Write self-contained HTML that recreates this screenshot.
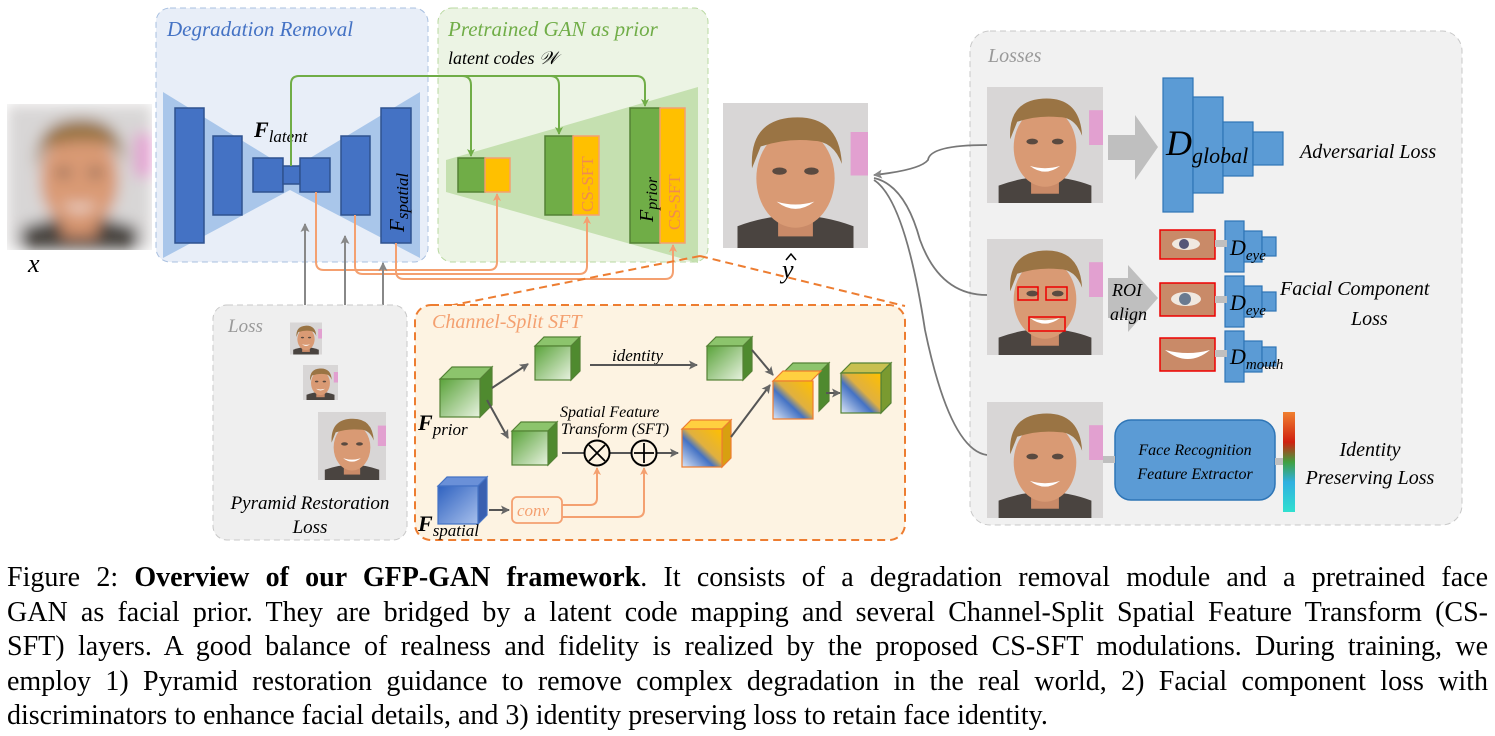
<!DOCTYPE html>
<html><head><meta charset="utf-8"><style>
body{margin:0;width:1495px;height:736px;background:#fff;overflow:hidden;position:relative;font-family:"Liberation Serif",serif}
svg{position:absolute;left:0;top:0}
.cap{position:absolute;left:7px;top:561px;width:1481px;font-size:28px;line-height:34.5px;color:#000}
.cap div{text-align:justify;text-align-last:justify;white-space:nowrap;height:34.5px}
.cap div.l{text-align-last:left}
text{font-family:"Liberation Serif",serif}
</style></head><body>
<svg width="1495" height="548" viewBox="0 0 1495 548">
<defs>
<symbol id="face" viewBox="0 0 100 100">
<rect width="100" height="100" fill="#d8d6d6"/>
<path d="M10 100 L10 85 Q50 70 90 85 L90 100Z" fill="#4a4440"/>
<rect x="38" y="72" width="24" height="20" fill="#c98a68"/>
<ellipse cx="50" cy="52" rx="27" ry="34" fill="#d99a74"/>
<path d="M20 45 Q18 12 48 10 Q80 8 82 42 Q76 26 62 26 Q44 24 26 30Z" fill="#9a7444"/>
<ellipse cx="39" cy="47" rx="5" ry="2.5" fill="#5a4a40"/><ellipse cx="61" cy="47" rx="5" ry="2.5" fill="#5a4a40"/>
<path d="M37 68 Q50 78 63 68 Q50 72 37 68Z" fill="#fff"/>
<rect x="88" y="20" width="12" height="30" fill="#e2a0d0"/>
</symbol>
<filter id="bl"><feGaussianBlur stdDeviation="5"/></filter>
<linearGradient id="gc" x1="0" y1="0" x2="1" y2="1"><stop offset="0" stop-color="#5aa33a"/><stop offset="1" stop-color="#e8f2e0"/></linearGradient>
<linearGradient id="bc" x1="0" y1="0" x2="1" y2="1"><stop offset="0" stop-color="#2f62c0"/><stop offset="1" stop-color="#a8c0ec"/></linearGradient>
<linearGradient id="mc" x1="1" y1="0" x2="0" y2="1"><stop offset="0" stop-color="#ffc000"/><stop offset="0.45" stop-color="#e0b040"/><stop offset="0.6" stop-color="#4472c4"/><stop offset="1" stop-color="#dde6f5"/></linearGradient>
<linearGradient id="cb" x1="0" y1="0" x2="0" y2="1"><stop offset="0" stop-color="#f08030"/><stop offset="0.3" stop-color="#d02010"/><stop offset="0.5" stop-color="#40a040"/><stop offset="0.7" stop-color="#30b0e0"/><stop offset="1" stop-color="#30e0d0"/></linearGradient>
<marker id="ag" markerWidth="8" markerHeight="8" refX="7" refY="4" orient="auto" markerUnits="userSpaceOnUse"><path d="M0 0L8 4L0 8L2 4Z" fill="#70ad47"/></marker>
<marker id="ao" markerWidth="8" markerHeight="8" refX="7" refY="4" orient="auto" markerUnits="userSpaceOnUse"><path d="M0 0L8 4L0 8L2 4Z" fill="#f4a070"/></marker>
<marker id="ak" markerWidth="9" markerHeight="9" refX="8" refY="4.5" orient="auto" markerUnits="userSpaceOnUse"><path d="M0 0L9 4.5L0 9L2 4.5Z" fill="#666"/></marker>
<marker id="aq" markerWidth="9" markerHeight="9" refX="8" refY="4.5" orient="auto" markerUnits="userSpaceOnUse"><path d="M0 0L9 4.5L0 9L2 4.5Z" fill="#888"/></marker>
</defs>

<svg x="7" y="104" width="145" height="146" viewBox="0 0 100 100"><g filter="url(#bl)"><use href="#face" width="100" height="100"/></g></svg>
<text x="28" y="272" font-size="26" font-style="italic">x</text>

<rect x="156" y="8" width="272" height="254" rx="14" fill="#e8eef8" stroke="#a9c0e0" stroke-dasharray="6,4"/>
<text x="167" y="36" font-size="21" font-style="italic" fill="#4472c4">Degradation Removal</text>
<polygon points="163,92 290,170 420,92 420,258 290,190 163,258" fill="#a9c6ea"/>
<g fill="#4472c4" stroke="#2f528f" stroke-width="1.5">
<rect x="175" y="108" width="29" height="135"/>
<rect x="213" y="136" width="29" height="79"/>
<rect x="253" y="158" width="30" height="34"/>
<rect x="283" y="166" width="17" height="18"/>
<rect x="300" y="158" width="30" height="34"/>
<rect x="341" y="136" width="29" height="79"/>
<rect x="381" y="108" width="30" height="135"/>
</g>
<text x="254" y="137" font-size="22" font-style="italic"><tspan font-weight="bold">F</tspan><tspan font-size="17" dy="5">latent</tspan></text>
<text transform="translate(404,232) rotate(-90)" font-size="21" font-style="italic">F<tspan font-size="17" dy="4">spatial</tspan></text>

<rect x="438" y="8" width="270" height="254" rx="14" fill="#ecf4e4" stroke="#b8d8a0" stroke-dasharray="6,4"/>
<text x="448" y="36" font-size="21" font-style="italic" fill="#70ad47">Pretrained GAN as prior</text>
<text x="448" y="64" font-size="18" font-style="italic">latent codes 𝒲</text>
<polygon points="446,160 698,87 698,263 446,192" fill="#c5e0b0"/>
<g stroke-width="1.5">
<rect x="458" y="158" width="27" height="34" fill="#70ad47" stroke="#548235"/>
<rect x="485" y="158" width="25" height="34" fill="#ffc000" stroke="#f4a070"/>
<rect x="545" y="136" width="28" height="79" fill="#70ad47" stroke="#548235"/>
<rect x="573" y="136" width="26" height="79" fill="#ffc000" stroke="#f4a070"/>
<rect x="630" y="108" width="30" height="135" fill="#70ad47" stroke="#548235"/>
<rect x="660" y="108" width="25" height="135" fill="#ffc000" stroke="#f4a070"/>
</g>
<text transform="translate(593,212) rotate(-90)" font-size="17" fill="#f08a50">CS-SFT</text>
<text transform="translate(680,230) rotate(-90)" font-size="17" fill="#f08a50">CS-SFT</text>
<text transform="translate(653,222) rotate(-90)" font-size="20" font-style="italic">F<tspan font-size="16" dy="4">prior</tspan></text>

<g fill="none" stroke="#70ad47" stroke-width="2">
<path d="M291 166 V84 Q291 76 299 76 H462 Q471 76 471 85 V156" marker-end="url(#ag)"/>
<path d="M462 76 H550 Q559 76 559 85 V134" marker-end="url(#ag)"/>
<path d="M550 76 H636 Q645 76 645 85 V106" marker-end="url(#ag)"/>
</g>
<g fill="none" stroke="#f4a070" stroke-width="2">
<path d="M316 192 V262 Q316 270 324 270 H489 Q497 270 497 262 V194" marker-end="url(#ao)"/>
<path d="M355 215 V266 Q355 274 363 274 H579 Q587 274 587 266 V217" marker-end="url(#ao)"/>
<path d="M396 243 V271 Q396 279 404 279 H665 Q673 279 673 271 V245" marker-end="url(#ao)"/>
</g>
<g stroke="#888" stroke-width="2" fill="none">
<path d="M305 320 V224" marker-end="url(#aq)"/>
<path d="M345 355 V236" marker-end="url(#aq)"/>
<path d="M383 405 V263" marker-end="url(#aq)"/>
</g>

<rect x="213" y="305" width="194" height="235" rx="14" fill="#efefef" stroke="#c8c8c8" stroke-dasharray="6,4"/>
<text x="228" y="332" font-size="19" font-style="italic" fill="#999">Loss</text>
<use href="#face" x="290" y="322" width="32" height="33"/>
<use href="#face" x="303" y="360" width="35" height="45"/>
<use href="#face" x="318" y="408" width="68" height="76"/>
<text x="310" y="509" font-size="19" font-style="italic" text-anchor="middle">Pyramid Restoration</text>
<text x="310" y="533" font-size="19" font-style="italic" text-anchor="middle">Loss</text>

<path d="M700 256 L418 312 M700 256 L905 306" stroke="#ed7d31" stroke-width="2" stroke-dasharray="8,5" fill="none"/>
<rect x="415" y="305" width="490" height="235" rx="16" fill="#fdf3e2" stroke="#ed7d31" stroke-width="2" stroke-dasharray="8,5"/>
<text x="432" y="328" font-size="20" font-style="italic" fill="#f4a070">Channel-Split SFT</text>

<g stroke-width="1.2">
<g transform="translate(440,367)"><polygon points="0,12 12,0 52,0 40,12" fill="#8cc46c" stroke="#548235"/><polygon points="40,12 52,0 52,38 40,50" fill="#4f8a2f" stroke="#548235"/><rect x="0" y="12" width="40" height="38" fill="url(#gc)" stroke="#548235"/></g>
<g transform="translate(535,337)"><polygon points="0,9 9,0 45,0 36,9" fill="#8cc46c" stroke="#548235"/><polygon points="36,9 45,0 45,34 36,43" fill="#4f8a2f" stroke="#548235"/><rect x="0" y="9" width="36" height="34" fill="url(#gc)" stroke="#548235"/></g>
<g transform="translate(707,337)"><polygon points="0,9 9,0 45,0 36,9" fill="#8cc46c" stroke="#548235"/><polygon points="36,9 45,0 45,34 36,43" fill="#4f8a2f" stroke="#548235"/><rect x="0" y="9" width="36" height="34" fill="url(#gc)" stroke="#548235"/></g>
<g transform="translate(512,422)"><polygon points="0,9 9,0 45,0 36,9" fill="#8cc46c" stroke="#548235"/><polygon points="36,9 45,0 45,34 36,43" fill="#4f8a2f" stroke="#548235"/><rect x="0" y="9" width="36" height="34" fill="url(#gc)" stroke="#548235"/></g>
<g transform="translate(682,420)"><polygon points="0,9 9,0 49,0 40,9" fill="#ffd040" stroke="#ed7d31"/><polygon points="40,9 49,0 49,38 40,47" fill="#d8a010" stroke="#ed7d31"/><rect x="0" y="9" width="40" height="38" fill="url(#mc)" stroke="#ed7d31"/></g>
<g transform="translate(773,363)"><polygon points="10,10 20,0 56,0 46,10" fill="#8cc46c" stroke="#548235"/><polygon points="46,10 56,0 56,38 46,48" fill="#4f8a2f" stroke="#548235"/><polygon points="0,18 10,8 48,8 38,18" fill="#ffd040" stroke="#ed7d31"/><rect x="0" y="18" width="40" height="38" fill="url(#mc)" stroke="#ed7d31"/></g>
<g transform="translate(841,363)"><polygon points="0,10 10,0 50,0 40,10" fill="#c8c050" stroke="#548235"/><polygon points="40,10 50,0 50,40 40,50" fill="#7a9a30" stroke="#548235"/><rect x="0" y="10" width="40" height="40" fill="url(#mc)" stroke="#548235"/></g>
<g transform="translate(438,477)"><polygon points="0,9 9,0 49,0 40,9" fill="#6a90d8" stroke="#4472c4"/><polygon points="40,9 49,0 49,38 40,47" fill="#3a60b0" stroke="#4472c4"/><rect x="0" y="9" width="40" height="38" fill="url(#bc)" stroke="#4472c4"/></g>
</g>
<text x="418" y="430" font-size="22" font-style="italic"><tspan font-weight="bold">F</tspan><tspan font-size="17" dy="5">prior</tspan></text>
<text x="418" y="531" font-size="22" font-style="italic"><tspan font-weight="bold">F</tspan><tspan font-size="17" dy="5">spatial</tspan></text>
<text x="612" y="361" font-size="17" font-style="italic">identity</text>
<text x="560" y="417" font-size="16" font-style="italic">Spatial Feature</text>
<text x="561" y="434" font-size="16" font-style="italic">Transform (SFT)</text>
<g stroke="#555" stroke-width="2" fill="none">
<path d="M492 388 L528 364" marker-end="url(#ak)"/>
<path d="M487 400 L508 438" marker-end="url(#ak)"/>
<path d="M590 365 H697" marker-end="url(#ak)"/>
<path d="M562 453 H584"/><path d="M610 453 H631"/><path d="M657 453 H678" marker-end="url(#ak)"/>
<path d="M752 350 L773 375" marker-end="url(#ak)"/>
<path d="M731 437 L770 385" marker-end="url(#ak)"/>
<path d="M826 393 H840" marker-end="url(#ak)"/>
<path d="M489 510 H509" marker-end="url(#ak)"/>
</g>
<circle cx="597" cy="453" r="12.5" fill="none" stroke="#000" stroke-width="2"/>
<path d="M589 445 L605 461 M605 445 L589 461" stroke="#000" stroke-width="1.8"/>
<circle cx="644" cy="453" r="12.5" fill="none" stroke="#000" stroke-width="2"/>
<path d="M644 443 V463 M634 453 H654" stroke="#000" stroke-width="1.8"/>
<rect x="512" y="497" width="50" height="26" rx="5" fill="none" stroke="#f4a070" stroke-width="1.8"/>
<text x="517" y="516" font-size="17" font-style="italic" fill="#f4a070">conv</text>
<g fill="none" stroke="#f4a070" stroke-width="2">
<path d="M562 505 H590 Q597 505 597 498 V468" marker-end="url(#ao)"/>
<path d="M562 517 H637 Q644 517 644 510 V468" marker-end="url(#ao)"/>
</g>

<use href="#face" x="723" y="103" width="145" height="145"/>
<text x="782" y="278" font-size="26" font-style="italic">y</text>
<path d="M786 260 L791 254 L796 260" stroke="#000" stroke-width="1.5" fill="none"/>

<rect x="970" y="31" width="492" height="494" rx="20" fill="#f1f1f1" stroke="#c8c8c8" stroke-dasharray="6,4"/>
<text x="988" y="62" font-size="20" font-style="italic" fill="#999">Losses</text>
<g fill="none" stroke="#777" stroke-width="1.8">
<path d="M987 145 Q930 145 928 160 Q920 170 874 175" marker-end="url(#aq)"/>
<path d="M987 295 Q940 295 920 240 Q905 185 874 178"/>
<path d="M987 455 Q950 450 925 330 Q905 200 874 180"/>
</g>
<use href="#face" x="987" y="85" width="116" height="120"/>
<use href="#face" x="987" y="237" width="116" height="120"/>
<use href="#face" x="987" y="400" width="116" height="120"/>
<g fill="none" stroke="#e00" stroke-width="1.5">
<rect x="1018" y="287" width="20" height="13"/><rect x="1046" y="287" width="21" height="13"/><rect x="1029" y="317" width="36" height="14"/>
</g>
<polygon points="1108,135 1135,135 1135,115 1158,147 1135,180 1135,160 1108,160" fill="#bfbfbf"/>
<g fill="#5b9bd5" stroke="#2e75b6" stroke-width="1.2">
<rect x="1163" y="78" width="30" height="134"/><rect x="1193" y="97" width="30" height="96"/><rect x="1223" y="122" width="30" height="54"/><rect x="1253" y="132" width="30" height="33"/>
</g>
<text x="1166" y="155" font-size="36" font-style="italic" font-family="DejaVu Serif">D<tspan font-size="22" dy="8">global</tspan></text>
<text x="1300" y="158" font-size="20" font-style="italic">Adversarial Loss</text>

<polygon points="1108,278 1128,278 1128,265 1158,298 1128,332 1128,318 1108,318" fill="#bfbfbf"/>
<text x="1112" y="296" font-size="18" font-style="italic">ROI</text>
<text x="1110" y="320" font-size="18" font-style="italic">align</text>
<g fill="#c98a68" stroke="#e00" stroke-width="1.5">
<rect x="1160" y="230" width="55" height="29"/><rect x="1160" y="283" width="55" height="33"/><rect x="1160" y="338" width="55" height="33"/>
</g>
<ellipse cx="1186" cy="244" rx="14" ry="6" fill="#f0e8e0"/><circle cx="1184" cy="244" r="5" fill="#557"/>
<ellipse cx="1186" cy="299" rx="15" ry="7" fill="#f0e8e0"/><circle cx="1185" cy="299" r="6" fill="#6a7a90"/>
<path d="M1165 350 Q1188 368 1210 350 Q1188 356 1165 350Z" fill="#fff"/>
<g fill="#5b9bd5" stroke="#2e75b6" stroke-width="1.2">
<rect x="1225" y="221" width="19" height="51"/><rect x="1244" y="231" width="18" height="31"/><rect x="1262" y="237" width="14" height="19"/>
<rect x="1225" y="276" width="19" height="51"/><rect x="1244" y="286" width="18" height="31"/><rect x="1262" y="292" width="14" height="19"/>
<rect x="1225" y="331" width="19" height="51"/><rect x="1244" y="341" width="18" height="31"/><rect x="1262" y="347" width="14" height="19"/>
</g>
<g fill="#bfbfbf"><rect x="1215" y="240" width="12" height="7"/><rect x="1215" y="296" width="12" height="7"/><rect x="1215" y="350" width="12" height="7"/></g>
<g font-family="DejaVu Serif" font-style="italic">
<text x="1230" y="255" font-size="22">D<tspan font-size="15" dy="5">eye</tspan></text>
<text x="1230" y="310" font-size="22">D<tspan font-size="15" dy="5">eye</tspan></text>
<text x="1230" y="364" font-size="22">D<tspan font-size="15" dy="5">mouth</tspan></text>
</g>
<text x="1280" y="295" font-size="20" font-style="italic">Facial Component</text>
<text x="1351" y="325" font-size="20" font-style="italic">Loss</text>

<rect x="1115" y="420" width="160" height="80" rx="16" fill="#5b9bd5" stroke="#2e75b6" stroke-width="1.5"/>
<text x="1195" y="455" font-size="16" font-style="italic" text-anchor="middle">Face Recognition</text>
<text x="1195" y="479" font-size="16" font-style="italic" text-anchor="middle">Feature Extractor</text>
<rect x="1103" y="456" width="12" height="7" fill="#bfbfbf"/>
<rect x="1275" y="458" width="10" height="7" fill="#bfbfbf"/>
<rect x="1283" y="412" width="12" height="100" fill="url(#cb)"/>
<text x="1370" y="456" font-size="20" font-style="italic" text-anchor="middle">Identity</text>
<text x="1370" y="484" font-size="20" font-style="italic" text-anchor="middle">Preserving Loss</text>
</svg>
<div class="cap">
<div>Figure 2: <b>Overview of our GFP-GAN framework</b>. It consists of a degradation removal module and a pretrained face</div>
<div>GAN as facial prior. They are bridged by a latent code mapping and several Channel-Split Spatial Feature Transform (CS-</div>
<div>SFT) layers. A good balance of realness and fidelity is realized by the proposed CS-SFT modulations. During training, we</div>
<div>employ 1) Pyramid restoration guidance to remove complex degradation in the real world, 2) Facial component loss with</div>
<div class="l">discriminators to enhance facial details, and 3) identity preserving loss to retain face identity.</div>
</div>
</body></html>
